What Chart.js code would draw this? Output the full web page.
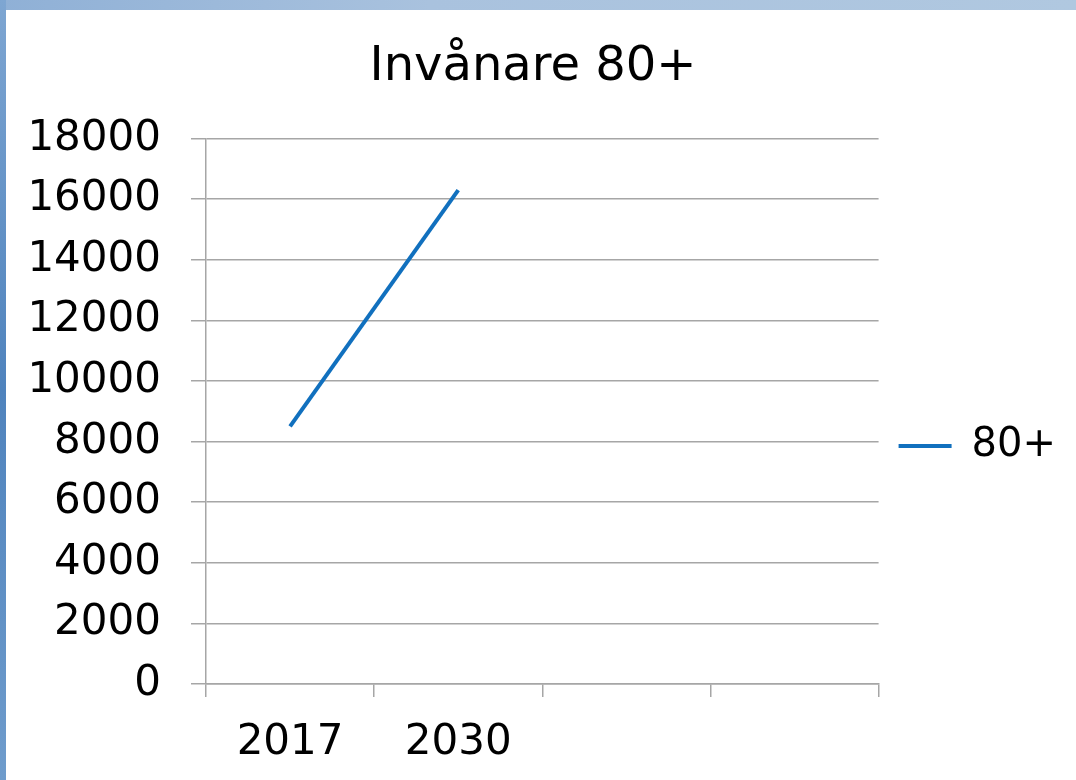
<!DOCTYPE html>
<html>
<head>
<meta charset="utf-8">
<script src="https://cdn.jsdelivr.net/npm/chart.js@4"></script>
<style>
  html, body { margin: 0; padding: 0; }
  body {
    width: 1076px; height: 780px; overflow: hidden; position: relative;
    background: linear-gradient(to right, #8fb0d6 0%, #a9c2de 40%, #b0c8e0 100%);
  }
  #edge { position: absolute; left: 0; top: 0; width: 6px; height: 780px;
    background: linear-gradient(to bottom, #7ea6d2, #4f83bd 50%, #6f9ccc); }
  #paper { position: absolute; left: 6px; top: 10px; width: 1070px; height: 770px; background: #fff; }
  #wrap { position: absolute; left: 0; top: 0; width: 1076px; height: 780px; }
</style>
</head>
<body>
<div id="edge"></div>
<div id="paper"></div>
<div id="wrap"><canvas id="chart"></canvas></div>
<script>
const chartTitle = 'Invånare 80+'
const categories = ['2017', '2030', '', '']
const seriesName = '80+'
const invanare80 = [8500, 16300, null, null]
const yMin = 0
const yMax = 18000
const yStep = 2000

const gridColor = '#a6a6a6'
const font = 'DejaVu Sans'

var ctx = document.getElementById('chart').getContext('2d')
new Chart(ctx, {
    type: 'line',
    data: {
        labels: categories,
        datasets: [{
            label: seriesName,
            data: invanare80,
            borderColor: '#1170be',
            backgroundColor: '#1170be',
            borderWidth: 4,
            pointRadius: 0,
            fill: false,
            tension: 0
        }]
    },
    options: {
        responsive: true, maintainAspectRatio: false, animation: false,
        layout: { padding: { top: 10, left: 0, right: 10, bottom: 0 } },
        plugins: {
            title: {
                display: true, text: chartTitle, color: '#000',
                font: { family: font, size: 48, weight: 'normal' },
                padding: { top: 29, bottom: 42 }
            },
            legend: {
                position: 'right',
                // empty title only pushes the entry down a bit
                title: { display: true, text: '', padding: { top: 90, bottom: 0 }, font: { size: 10 } },
                labels: {
                    color: '#000',
                    font: { family: font, size: 40 },
                    usePointStyle: true, pointStyle: 'line', pointStyleWidth: 53,
                    padding: 20
                }
            },
            tooltip: { enabled: false }
        },
        scales: {
            x: {
                offset: true,
                grid: { offset: true, drawOnChartArea: false, color: gridColor, lineWidth: 1.5, tickLength: 13 },
                border: { color: gridColor, width: 1.5 },
                ticks: { color: '#000', font: { family: font, size: 42 }, padding: 21, maxRotation: 0, autoSkip: false },
                afterFit: (scale) => { scale.height = 96 }
            },
            y: {
                min: yMin, max: yMax,
                grid: { color: gridColor, lineWidth: 1.5, tickLength: 15 },
                border: { color: gridColor, width: 1.5 },
                ticks: { stepSize: yStep, color: '#000', font: { family: font, size: 42 }, padding: 30,
                    callback: (v) => String(v) },
                afterFit: (scale) => { scale.width = 206 }
            }
        }
    }
})
</script>
</body>
</html>
